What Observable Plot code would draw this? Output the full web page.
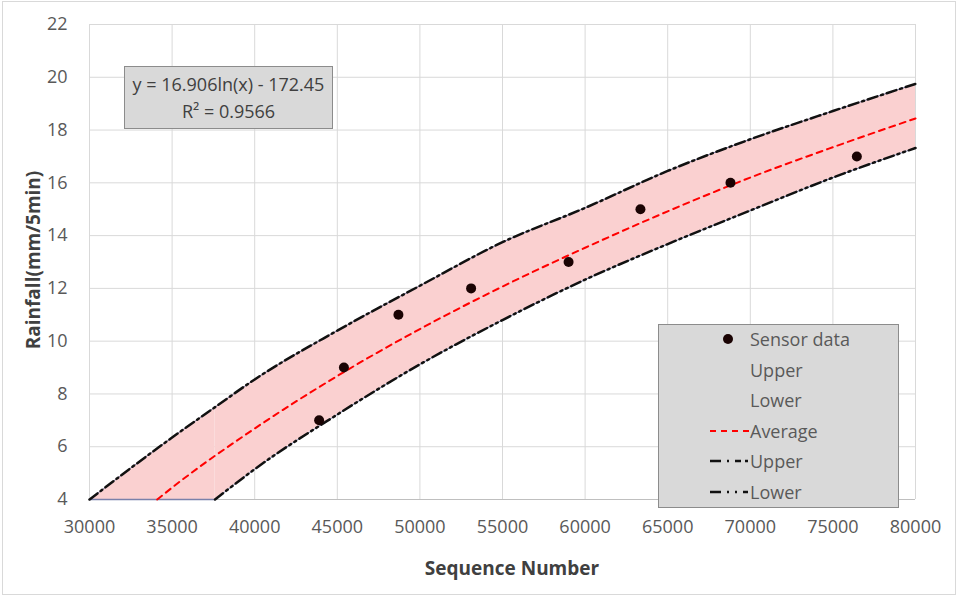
<!DOCTYPE html>
<html><head><meta charset="utf-8">
<script src="https://cdn.jsdelivr.net/npm/d3@7"></script>
<script src="https://cdn.jsdelivr.net/npm/@observablehq/plot@0.6"></script>
<style>
body{margin:0;background:#fff;}
#wrap{position:relative;width:958px;height:596px;font-family:"Open Sans","Noto Sans",sans-serif;color:#595959;overflow:hidden;}
#frame{position:absolute;left:2px;top:1px;width:952px;height:592px;border:1px solid #d9d9d9;pointer-events:none;}
.box{position:absolute;background:#d9d9d9;border:1px solid #8c8c8c;box-sizing:border-box;}
#eq{left:124px;top:66px;width:209px;height:63px;text-align:center;font-size:18px;line-height:27px;padding-top:4px;color:#404040;}
#leg{left:658px;top:324px;width:241px;height:184px;font-size:18px;}
.row{position:absolute;left:0;height:30px;display:flex;align-items:center;}
.row svg{position:absolute;left:50px;}
.row span{position:absolute;left:91px;white-space:nowrap;line-height:30px;}
.ttl{position:absolute;font-weight:bold;color:#404040;font-size:19px;white-space:nowrap;}
</style></head><body>
<div id="wrap">
  <div id="frame"></div>
</div>
<script>
// ---- data ----
const sensorX = [43900, 45400, 48700, 53100, 59000, 63350, 68800, 76450];
const sensorY = [7, 9, 11, 12, 13, 15, 16, 17];

const bandX  = [30000, 35000, 37600, 40000, 45000, 50000, 55000, 60000, 65000, 70000, 75000, 80000];
const upperY = [4, 6.35, 7.5, 8.55, 10.4, 12.1, 13.75, 15.05, 16.45, 17.65, 18.72, 19.75];
const lowerY = [4, 4, 4, 5.15, 7.22, 9.12, 10.8, 12.33, 13.68, 14.95, 16.2, 17.32];

const avgX = [34100, 35000, 40000, 45000, 50000, 55000, 60000, 65000, 70000, 75000, 80000];
const avgY = [4, 4.45, 6.69, 8.68, 10.46, 12.07, 13.54, 14.92, 16.2, 17.35, 18.44];

const xTicks = [30000, 35000, 40000, 45000, 50000, 55000, 60000, 65000, 70000, 75000, 80000];
const yTicks = [4, 6, 8, 10, 12, 14, 16, 18, 20, 22];

const eqLine1 = "y = 16.906ln(x) - 172.45";
const eqLine2 = "R² = 0.9566";
const xTitle = "Sequence Number";
const yTitle = "Rainfall(mm/5min)";
const legendLabels = ["Sensor data", "Upper", "Lower", "Average", "Upper", "Lower"];

// ---- tables ----
const band = bandX.map((x, i) => ({x, lo: lowerY[i], hi: upperY[i]}));
const kinkX = 37600;
const bandLeft = band.filter(d => d.x <= kinkX);
const bandRight = band.filter(d => d.x >= kinkX);
const avg = avgX.map((x, i) => ({x, y: avgY[i]}));
const sensor = sensorX.map((x, i) => ({x, y: sensorY[i]}));

const edge = "#7a80aa";
const chart = Plot.plot({
  width: 958, height: 596,
  marginLeft: 89, marginRight: 43, marginTop: 24, marginBottom: 97,
  style: {fontFamily: '"Open Sans","Noto Sans",sans-serif', fontSize: "18px", color: "#595959", background: "transparent"},
  x: {domain: [30000, 80000], ticks: xTicks},
  y: {domain: [4, 22], ticks: yTicks},
  marks: [
    Plot.gridX(xTicks, {stroke: "#d9d9d9", strokeOpacity: 1, strokeWidth: 1}),
    Plot.gridY(yTicks, {stroke: "#d9d9d9", strokeOpacity: 1, strokeWidth: 1}),
    Plot.areaY(bandLeft, {x: "x", y1: "lo", y2: "hi", fill: "#fad0d0", curve: "monotone-x"}),
    Plot.areaY(bandRight, {x: "x", y1: "lo", y2: "hi", fill: "#fad0d0", curve: "monotone-x"}),
    Plot.ruleY([4], {stroke: "#bfbfbf", strokeWidth: 1}),
    Plot.line(band, {x: "x", y: "hi", stroke: edge, strokeWidth: 1, curve: "monotone-x"}),
    Plot.line(bandLeft, {x: "x", y: "lo", stroke: edge, strokeWidth: 1.5}),
    Plot.line(bandRight, {x: "x", y: "lo", stroke: edge, strokeWidth: 1, curve: "monotone-x"}),
    Plot.line(band, {x: "x", y: "hi", stroke: "#111", strokeWidth: 2.5, strokeDasharray: "10,4,2,4", curve: "monotone-x"}),
    Plot.line(bandRight, {x: "x", y: "lo", stroke: "#111", strokeWidth: 2.5, strokeDasharray: "10,4,2,4,2,4", curve: "monotone-x"}),
    Plot.line(avg, {x: "x", y: "y", stroke: "#ff0000", strokeWidth: 2, strokeDasharray: "6,5", curve: "monotone-x"}),
    Plot.dot(sensor, {x: "x", y: "y", r: 5, fill: "#1a0303", stroke: "none"}),
    Plot.axisX(xTicks, {tickSize: 0, tickPadding: 21, tickFormat: d3.format("d"), label: null, fill: "#595959"}),
    Plot.axisY(yTicks, {tickSize: 0, tickPadding: 22, tickFormat: d3.format("d"), label: null, fill: "#595959"})
  ]
});
const wrap = document.getElementById("wrap");
chart.style.position = "absolute";
chart.style.left = "0"; chart.style.top = "0";
wrap.appendChild(chart);

// equation box
const eq = document.createElement("div");
eq.className = "box"; eq.id = "eq";
eq.innerHTML = `<div>${eqLine1}</div><div>${eqLine2}</div>`;
wrap.appendChild(eq);

// legend
const leg = document.createElement("div");
leg.className = "box"; leg.id = "leg";
const sym = [
  `<svg width="42" height="12" style="left:63px"><circle cx="6" cy="6" r="5" fill="#1a0303"/></svg>`,
  ``, ``,
  `<svg width="42" height="12"><line x1="1" y1="6" x2="40" y2="6" stroke="#ff0000" stroke-width="2" stroke-dasharray="6,5"/></svg>`,
  `<svg width="42" height="12"><line x1="1" y1="6" x2="39" y2="6" stroke="#111" stroke-width="2.5" stroke-dasharray="11,6,2,6,6,4"/></svg>`,
  `<svg width="42" height="12"><line x1="1" y1="6" x2="39" y2="6" stroke="#111" stroke-width="2.5" stroke-dasharray="11,6,2,6,2,6"/></svg>`
];
legendLabels.forEach((lab, i) => {
  const r = document.createElement("div");
  r.className = "row";
  r.style.top = (-1 + i * 30.6) + "px";
  r.innerHTML = sym[i] + `<span>${lab}</span>`;
  leg.appendChild(r);
});
wrap.appendChild(leg);
leg.querySelectorAll("svg").forEach(s => { s.style.top = "9px"; });

// axis titles
const xt = document.createElement("div");
xt.className = "ttl"; xt.textContent = xTitle;
xt.style.left = "512px"; xt.style.top = "568px"; xt.style.transform = "translate(-50%,-50%)";
wrap.appendChild(xt);
const yt = document.createElement("div");
yt.className = "ttl"; yt.textContent = yTitle;
yt.style.left = "33px"; yt.style.top = "260px"; yt.style.transform = "translate(-50%,-50%) rotate(-90deg)";
wrap.appendChild(yt);
</script>
</body></html>
